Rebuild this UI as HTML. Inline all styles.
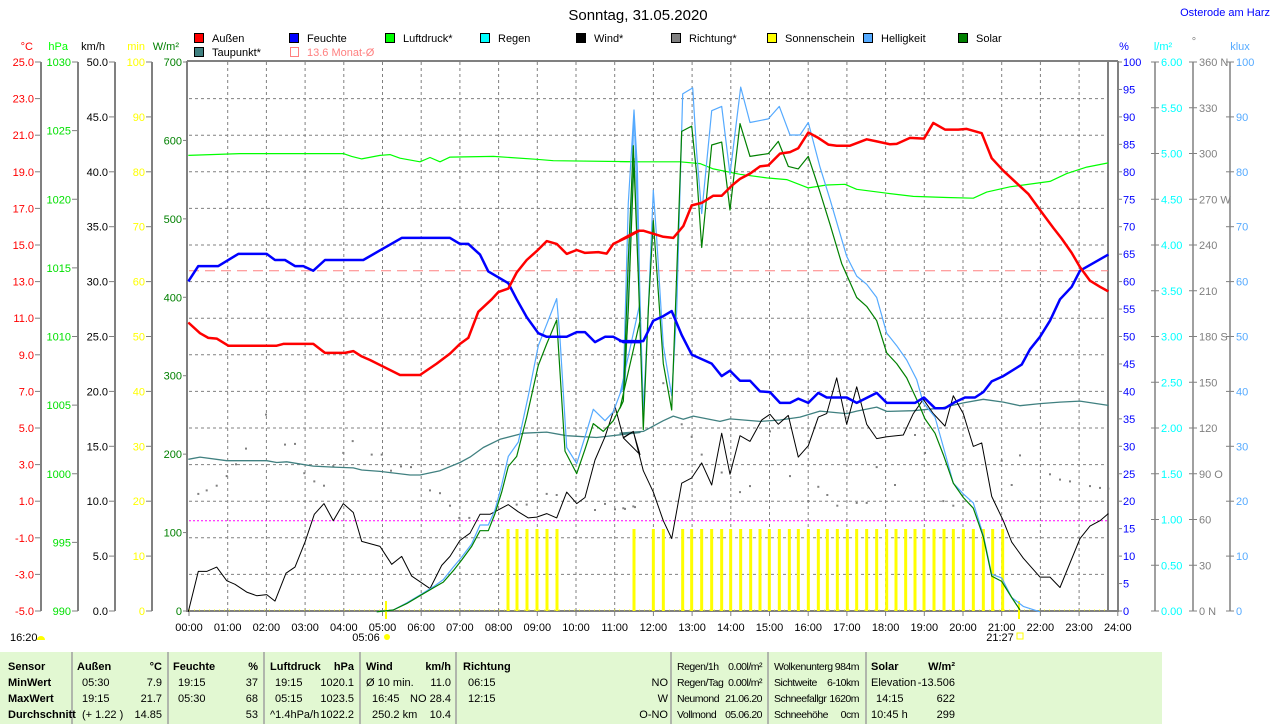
<!DOCTYPE html>
<html><head><meta charset="utf-8">
<style>
html,body{margin:0;padding:0;background:#fff;}
body{width:1274px;height:724px;overflow:hidden;position:relative;font-family:"Liberation Sans",sans-serif;}
svg{position:absolute;left:0;top:0;}
svg text{font-family:"Liberation Sans",sans-serif;font-size:11px;}
svg text.n{font-size:10.5px;letter-spacing:-0.5px;}
</style></head><body>
<svg id="s" width="1274" height="724" viewBox="0 0 1274 724"></svg>
<script>
var S=document.getElementById('s');var out=[];
function T(x,y,t,c,a,extra){out.push('<text x="'+x+'" y="'+y+'" fill="'+(c||'#000')+'"'+(a?' text-anchor="'+a+'"':'')+(extra||'')+'>'+t+'</text>');}
function L(x1,y1,x2,y2,c,w,d){out.push('<line x1="'+x1+'" y1="'+y1+'" x2="'+x2+'" y2="'+y2+'" stroke="'+c+'" stroke-width="'+(w||1)+'"'+(d?' stroke-dasharray="'+d+'"':'')+'/>');}
function R(x,y,w,h,f,st){out.push('<rect x="'+x+'" y="'+y+'" width="'+w+'" height="'+h+'" fill="'+f+'"'+(st?' stroke="'+st+'"':'')+'/>');}
var Y0=62,Y1=611,X0=189,HX=38.7;
T(638,20,'Sonntag, 31.05.2020','#000','middle',' style="font-size:15px"');
T(1270,16,'Osterode am Harz','#0000ff','end',' style="font-size:11px"');
var lg=[[199,38,'#ff0000','Außen'],[294,38,'#0000ff','Feuchte'],[390,38,'#00ff00','Luftdruck*'],[485,38,'#00ffff','Regen'],[581,38,'#000000','Wind*'],[676,38,'#808080','Richtung*'],[772,38,'#ffff00','Sonnenschein'],[868,38,'#55aaff','Helligkeit'],[963,38,'#008000','Solar'],[199,52,'#408080','Taupunkt*']];
lg.forEach(function(l){R(l[0]-4.5,l[1]-4.5,9,9,l[2],'#000');T(l[0]+13,l[1]+4,l[3]);});
R(294.5-4,47.5,8,9,'none','#ff8080');T(307,56,'13.6 Monat-Ø','#ff8080');
for(var i=1;i<15;i++){var y=Y0+i*549/15;L(189,y,1108,y,'#808080',1,'3,3');}
for(var h=1;h<=23;h++){var x=X0+h*HX;L(x,Y0,x,Y1,'#808080',1,'3,3');}
L(187,61,1118,61,'#808080',2);L(187,611,1118,611,'#808080',2);L(187,61,187,612,'#808080',2);L(1108,61,1108,612,'#808080',2);L(1118,61,1118,612,'#808080',2);
T(33,50,'°C','#ff0000','end');T(68,50,'hPa','#00ff00','end');T(105,50,'km/h','#000','end');T(145,50,'min','#ffff00','end');T(179,50,'W/m²','#008000','end');
L(41,62,41,611,'#808080',2);L(78,62,78,611,'#808080',2);L(115,62,115,611,'#808080',2);L(152,62,152,611,'#808080',2);
for(var i=0;i<=15;i++){var y=Y0+i*549/15;L(35,y,41,y,'#808080');T(34,y+4,(25-2*i).toFixed(1),'#ff0000','end');}
for(var i=0;i<=8;i++){var y=Y0+i*549/8;L(72,y,78,y,'#808080');T(71,y+4,1030-5*i,'#00e000','end');}
for(var i=0;i<=10;i++){var y=Y0+i*54.9;L(109,y,115,y,'#808080');T(108,y+4,(50-5*i).toFixed(1),'#000','end');L(146,y,152,y,'#808080');T(145,y+4,100-10*i,'#ffff00','end');}
for(var i=0;i<=7;i++){var y=Y0+i*549/7;L(183,y,187,y,'#808080');T(182,y+4,700-100*i,'#008000','end');}
T(1124,50,'%','#0000ff','middle');T(1163,50,'l/m²','#00ffff','middle');T(1194,45,'°','#808080','middle');T(1240,50,'klux','#55aaff','middle');
L(1155,62,1155,611,'#808080',1.5);L(1193,62,1193,611,'#808080',1.5);L(1230,62,1230,611,'#808080',1.5);
for(var i=0;i<=20;i++){var y=Y0+i*27.45;L(1118,y,1122,y,'#808080');T(1123,y+4,100-5*i,'#0000ff');}
var dl=['360 N','330','300','270 W','240','210','180 S','150','120','90 O','60','30','0 N'];
for(var i=0;i<=12;i++){var y=Y0+i*45.75;L(1151,y,1159,y,'#808080');T(1161,y+4,(6-0.5*i).toFixed(2),'#00ffff');L(1189,y,1197,y,'#808080');T(1199,y+4,dl[i],'#808080');}
for(var i=0;i<=10;i++){var y=Y0+i*54.9;L(1226,y,1234,y,'#808080');T(1236,y+4,100-10*i,'#55aaff');}
for(var h=0;h<=24;h++){var x=X0+h*HX;L(x,611,x,616,'#808080');T(x,631,(h<10?'0':'')+h+':00','#000','middle');}
T(366,641,'05:06','#000','middle');out.push('<circle cx="387" cy="637" r="3" fill="#ffff00"/>');L(386,601,386,619,'#ffff00',2);
T(1000,641,'21:27','#000','middle');R(1017,633,6,6,'none','#ffff00');L(1019,601,1019,619,'#ffff00',2);
T(10,641,'16:20','#000');out.push('<path d="M37,640 a4,4 0 0 1 8,0 z" fill="#ffff00"/>');
L(189,610,1108,610,'#ffff00',1,'1,4');
function z5(a){return a.map(function(p){return (180+p[0]/3).toFixed(1)+','+(60+p[1]/2.8).toFixed(1);});}
function z6(a){return a.map(function(p){return (620+p[0]/3).toFixed(1)+','+(60+p[1]/2.8).toFixed(1);});}
function PL(pts,c,w,d){out.push('<polyline points="'+pts.join(' ')+'" fill="none" stroke="'+c+'" stroke-width="'+w+'" stroke-linejoin="round"'+(d?' stroke-dasharray="'+d+'"':'')+'/>');}
var sb=[508,517,527,537,547,557,634];
[42,100,130,188,215,245,275,305,332,362,392,420,448,478,508,535,565,595,622,652,682,710,740,770,800,828,857,885,912,942,972,1000,1030,1060,1090,1118,1148].forEach(function(z){sb.push(620+z/3);});
sb.forEach(function(x){R(x-1.5,529,3,82,'#ffff00');});
L(189,520.7,1108,520.7,'#ff00ff',1,'2,2');
L(189,270.7,1108,270.7,'#ff8080',1,'10,6');
var d5=[[55,1215],[80,1205],[110,1192],[140,1165],[168,1132],[198,1088],[258,993],[315,1077],[345,1075],[373,1157],[403,1180],[432,1192],[460,1137],[490,1100],[518,1067],[575,1105],[605,1105],[633,1150],[663,1138],[693,1140],[750,1205],[780,1213],[810,1248],[838,1282],[868,1282],[1010,1245],[1040,1245],[1100,1215],[1130,1218],[1245,1260],[1275,1243],[1305,1258],[1335,1257],[1365,1252]];
var d6=[[10,1255],[40,1250],[130,905],[185,1020],[215,1055],[245,1105],[305,1155],[360,1210],[390,1193],[450,1040],[510,1165],[565,1235],[595,1195],[622,1218],[652,1248],[710,1240],[740,1240],[770,1140],[825,1190],[885,1050],[915,1100],[970,1235],[1000,1248],[1145,1122],[1175,1190],[1200,1107],[1290,1160],[1320,1175],[1350,1180],[1410,1193],[1440,1198],[1465,1200]];
z5(d5).concat(z6(d6)).forEach(function(p){var q=p.split(',');R(+q[0]-1,+q[1]-1,2,2,'#808080');});
var tau=z5([[25,1118],[60,1112],[140,1122],[260,1122],[290,1127],[320,1125],[400,1137],[460,1140],[520,1142],[545,1148],[600,1152],[690,1162],[720,1162],[780,1150],[840,1127],[870,1112],[910,1085],[960,1062],[1030,1045],[1100,1042],[1160,1052],[1250,1057],[1380,1043]]).concat(z6([[0,1045],[70,1040],[130,1010],[160,997],[190,1006],[220,997],[300,1012],[330,1005],[420,1012],[480,1008],[540,1000],[600,983],[680,990],[710,983],[770,972],[800,984],[880,982],[960,975],[1030,960],[1090,950],[1150,958],[1200,968],[1260,962],[1320,958],[1380,955],[1465,967]]));
PL(tau,'#408080',1.3);
var pr=z5([[25,267],[180,262],[490,262],[515,270],[545,277],[600,267],[630,265],[660,275],[720,285],[750,273],[780,285],[810,272],[940,270],[1070,278],[1120,282],[1380,285]]).concat(z6([[0,285],[180,285],[240,290],[280,305],[360,320],[440,330],[500,335],[565,358],[620,350],[675,348],[710,362],[800,373],[880,382],[980,385],[1060,387],[1100,370],[1170,355],[1290,340],[1340,318],[1400,300],[1465,288]]));
PL(pr,'#00ff00',1.2);
var wind=z5([[25,1545],[55,1432],[80,1432],[110,1420],[140,1458],[165,1468],[200,1490],[230,1500],[260,1497],[285,1515],[318,1437],[345,1420],[375,1350],[403,1272],[432,1242],[460,1290],[490,1242],[520,1267],[545,1348],[600,1362],[635,1412],[665,1390],[695,1445],[750,1480],[785,1415],[810,1390],[840,1345],[870,1325],[900,1272],[930,1272],[985,1245],[1015,1265],[1045,1282],[1070,1280],[1100,1270],[1130,1282],[1160,1210],[1190,1242],[1215,1225],[1245,1120],[1275,1055],[1305,970],[1330,1057],[1360,1040],[1380,1105]]).concat(z6([[10,1058],[40,1040],[70,1150],[100,1210],[130,1290],[155,1340],[185,1185],[215,1170],[245,1128],[275,1190],[305,1045],[330,1160],[360,1052],[390,1068],[425,1008],[450,992],[475,1020],[505,995],[535,1112],[565,1080],[595,1000],[620,990],[650,890],[680,1020],[710,915],[740,1020],[770,1060],[800,1055],[850,1050],[880,990],[910,950],[940,990],[975,1025],[1000,940],[1030,990],[1060,1082],[1085,1072],[1115,1222],[1150,1290],[1175,1350],[1210,1395],[1260,1448],[1290,1448],[1320,1477],[1380,1340],[1410,1305],[1440,1290],[1465,1270]]));
PL(wind,'#000',1);
var sol=z5([[590,1545],[640,1540],[680,1522],[720,1500],[760,1478],[790,1462],[820,1430],[845,1400],[875,1362],[900,1318],[925,1318],[945,1270],[965,1210],[985,1138],[1010,1110],[1040,1000],[1075,855],[1100,795],[1130,728],[1155,1095],[1190,1158],[1215,1090],[1240,1018],[1270,1040],[1300,1010],[1330,955],[1345,560],[1360,240],[1380,730]]).concat(z6([[0,975],[10,955],[25,700],[42,275],[55,600],[70,1035],[85,700],[100,450],[115,650],[130,850],[155,980],[170,600],[185,200],[215,185],[230,320],[245,525],[275,238],[305,230],[330,420],[360,178],[390,270],[445,262],[475,228],[505,298],[535,305],[565,270],[600,370],[630,460],[665,570],[710,665],[740,690],[770,730],[800,820],[830,850],[860,890],[895,960],[915,1005],[945,1045],[970,1105],[1000,1185],[1030,1225],[1060,1255],[1090,1335],[1115,1445],[1145,1460],[1175,1505],[1200,1540]]));
var hel=z5([[590,1545],[640,1540],[680,1520],[720,1498],[760,1475],[790,1455],[820,1420],[845,1392],[875,1355],[900,1302],[925,1302],[945,1260],[965,1190],[985,1110],[1015,1070],[1045,940],[1075,800],[1100,740],[1130,668],[1140,780],[1160,1085],[1190,1130],[1215,1055],[1240,978],[1275,1010],[1300,985],[1330,910],[1345,400],[1362,140],[1372,300],[1380,680]]).concat(z6([[0,935],[15,910],[28,600],[42,140],[55,500],[70,985],[85,700],[100,365],[110,500],[130,800],[155,940],[170,700],[188,95],[218,78],[230,260],[245,430],[275,142],[305,130],[330,320],[362,76],[390,175],[445,165],[478,130],[510,210],[540,210],[565,175],[600,300],[630,390],[680,550],[710,605],[740,628],[770,665],[800,765],[830,800],[860,840],[890,895],[910,960],[945,1000],[975,1100],[1000,1185],[1030,1215],[1060,1240],[1090,1330],[1115,1440],[1145,1450],[1175,1505],[1210,1530],[1260,1545]]));
PL(hel,'#55aaff',1.2);
PL(sol,'#008000',1.2);
var fe=z5([[25,620],[55,577],[115,577],[175,543],[260,543],[285,560],[315,560],[345,577],[370,577],[400,590],[435,560],[550,560],[665,498],[810,498],[840,515],[865,515],[900,545],[925,592],[985,625],[1010,670],[1040,720],[1075,765],[1100,775],[1160,775],[1190,762],[1215,762],[1245,790],[1275,775],[1300,775],[1330,790],[1380,790]]).concat(z6([[0,787],[70,787],[100,730],[130,717],[155,703],[185,770],[215,825],[275,850],[305,885],[330,870],[360,898],[390,898],[420,928],[450,930],[480,960],[510,960],[535,948],[565,960],[595,932],[620,945],[680,945],[710,960],[770,932],[800,960],[885,960],[912,945],[945,975],[975,975],[1005,958],[1035,945],[1065,945],[1090,930],[1115,900],[1150,885],[1205,853],[1230,810],[1260,775],[1290,730],[1320,670],[1355,635],[1380,590],[1465,545]]));
PL(fe,'#0000ff',2.5);
var au=z5([[25,735],[60,765],[85,778],[110,780],[145,800],[290,800],[310,795],[400,795],[435,820],[495,820],[520,815],[545,830],[570,840],[660,882],[720,882],[770,850],[810,822],[840,795],[865,778],[895,705],[935,670],[955,650],[985,640],[1010,595],[1040,560],[1070,535],[1100,507],[1130,515],[1160,543],[1190,532],[1215,540],[1255,538],[1280,542],[1300,515],[1340,497],[1378,478]]).concat(z6([[0,505],[30,490],[55,478],[70,478],[130,495],[160,498],[190,465],[215,407],[245,400],[280,380],[305,380],[335,352],[360,333],[390,318],[420,298],[445,295],[480,262],[510,258],[535,247],[565,203],[595,218],[625,237],[650,240],[690,240],[740,222],[770,228],[810,236],[830,235],[870,218],[912,220],[940,176],[975,195],[1015,195],[1040,193],[1085,205],[1115,275],[1150,310],[1190,345],[1225,375],[1260,420],[1300,470],[1325,500],[1355,540],[1380,580],[1410,618],[1440,635],[1465,648]]));
PL(au,'#ff0000',2.5);
R(0,652,1162,72,'#e2f8d2');
[72,168,264,360,456,671,768,866].forEach(function(x){L(x,652,x,724,'#a0a0a0',1.5);});
var ry=[670,686,702,718];
var B=' font-weight="bold"';var N=' class="n"';
T(8,ry[0],'Sensor','#000','',B);T(8,ry[1],'MinWert','#000','',B);T(8,ry[2],'MaxWert','#000','',B);T(8,ry[3],'Durchschnitt','#000','',B);
function col(xl,xr,h,u,rows){T(xl,ry[0],h,'#000','',B);T(xr,ry[0],u,'#000','end',B);rows.forEach(function(r,i){if(r[0])T(r[2]||xl+5,ry[i+1],r[0]);if(r[1])T(xr,ry[i+1],r[1],'#000','end');});}
col(77,162,'Außen','°C',[['05:30','7.9'],['19:15','21.7'],['(+ 1.22 )','14.85']]);
col(173,258,'Feuchte','%',[['19:15','37'],['05:30','68'],['','53']]);
col(270,354,'Luftdruck','hPa',[['19:15','1020.1'],['05:15','1023.5'],['^1.4hPa/h','1022.2',270]]);
col(366,451,'Wind','km/h',[['Ø 10 min.','11.0',366],['16:45','NO 28.4',372],['250.2 km','10.4',372]]);
col(463,668,'Richtung','',[['06:15','NO'],['12:15','W'],['','O-NO']]);
var c6=[['Regen/1h','0.00l/m²'],['Regen/Tag','0.00l/m²'],['Neumond','21.06.20'],['Vollmond','05.06.20']];
c6.forEach(function(r,i){T(677,ry[i],r[0],'#000','',N);T(762,ry[i],r[1],'#000','end',N);});
var c7=[['Wolkenunterg','984m'],['Sichtweite','6-10km'],['Schneefallgr','1620m'],['Schneehöhe','0cm']];
c7.forEach(function(r,i){T(774,ry[i],r[0],'#000','',N);T(859,ry[i],r[1],'#000','end',N);});
T(871,ry[0],'Solar','#000','',B);T(955,ry[0],'W/m²','#000','end',B);
T(871,ry[1],'Elevation');T(955,ry[1],'-13.506','#000','end');
T(876,ry[2],'14:15');T(955,ry[2],'622','#000','end');
T(871,ry[3],'10:45 h');T(955,ry[3],'299','#000','end');
S.innerHTML=out.join('');
</script>
</body></html>
